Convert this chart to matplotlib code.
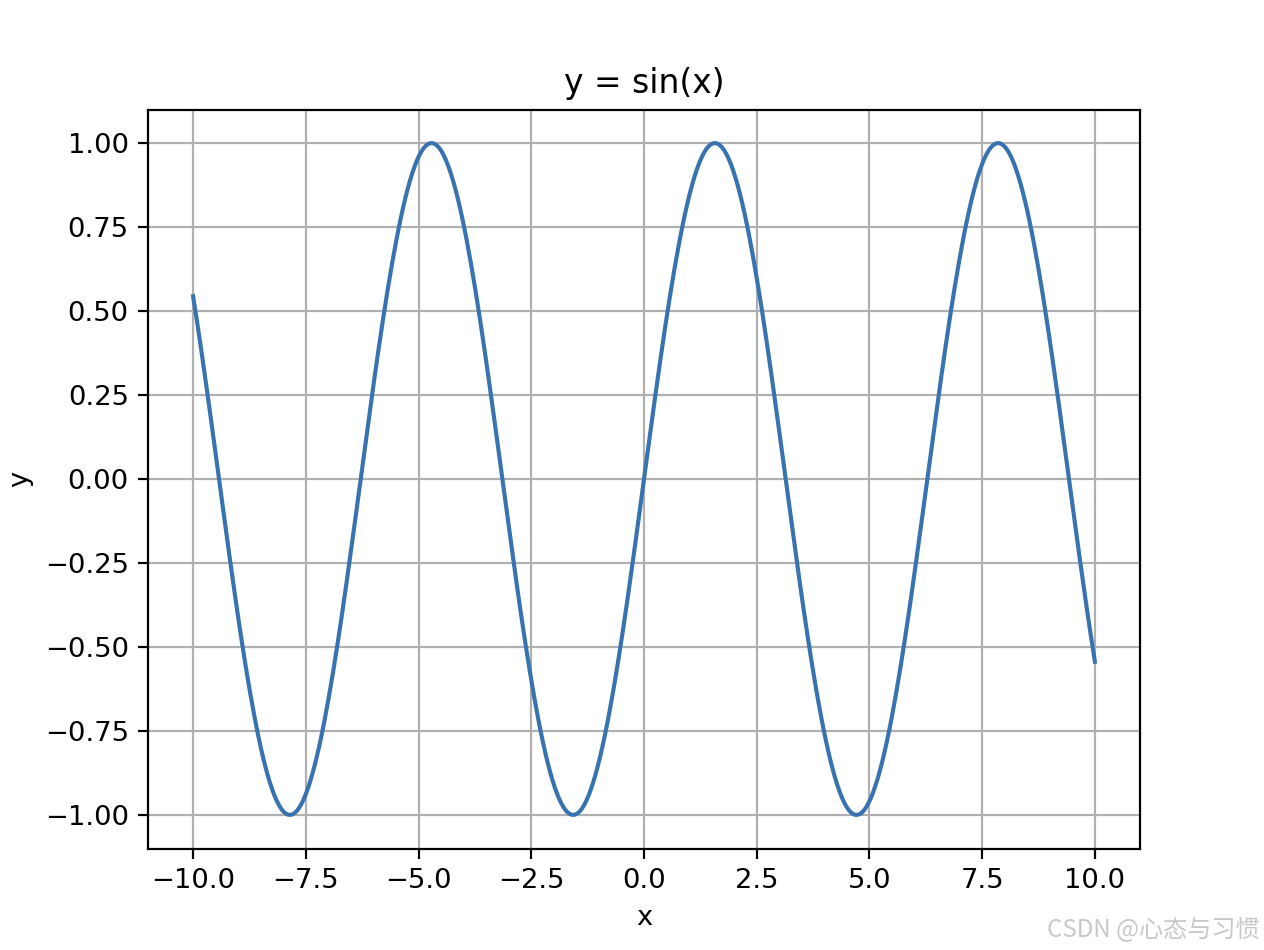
import numpy as np
import matplotlib
matplotlib.use("Agg")
import matplotlib.pyplot as plt

# Data: the chart's own stated function, y = sin(x), sampled over [-10, 10]
x_start, x_stop, n_points = -10.0, 10.0, 400
x = np.linspace(x_start, x_stop, n_points)
y = np.sin(x)

title = "y = sin(x)"
xlabel = "x"
ylabel = "y"
watermark = "CSDN @心态与习惯"

W, H = 1264, 950
dpi = 197.5
fig = plt.figure(figsize=(W / dpi, H / dpi), dpi=dpi)
ax = fig.add_axes([148 / W, 1 - 848.5 / H, (1140 - 148) / W, (848.5 - 109.5) / H])

ax.plot(x, y, color="#3873b0", linewidth=1.5)
ax.set_title(title)
ax.set_xlabel(xlabel)
ax.set_ylabel(ylabel)
ax.grid(True)

fig.text(1260 / W, 1 - 930 / H, watermark, ha="right", va="center",
         fontsize=8.8, color="#c8c8c8",
         family=["Noto Sans CJK SC", "DejaVu Sans"])

fig.savefig("out.png", dpi=dpi)
